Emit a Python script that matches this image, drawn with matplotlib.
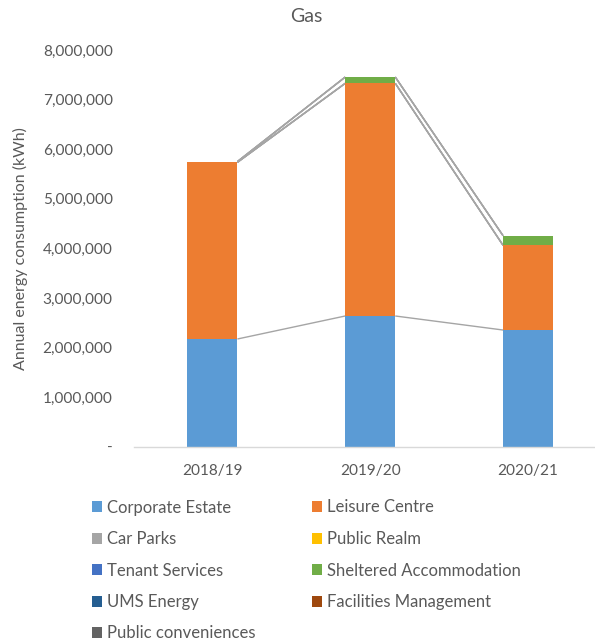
import matplotlib
matplotlib.use("Agg")
import matplotlib.pyplot as plt
from matplotlib.patches import Patch
from matplotlib.ticker import FuncFormatter
import numpy as np

plt.rcParams['font.family'] = ['Lato', 'DejaVu Sans']

categories = ["2018/19", "2019/20", "2020/21"]
series_names = ["Corporate Estate", "Leisure Centre", "Car Parks", "Public Realm",
                "Tenant Services", "Sheltered Accommodation", "UMS Energy",
                "Facilities Management", "Public conveniences"]
corporate_estate = [2172000, 2636000, 2353000]
leisure_centre = [3563000, 4692000, 1708000]
car_parks = [0, 0, 0]
public_realm = [0, 0, 0]
tenant_services = [0, 0, 0]
sheltered_accommodation = [15000, 127000, 194000]
ums_energy = [0, 0, 0]
facilities_management = [0, 0, 0]
public_conveniences = [0, 0, 0]
series_values = [corporate_estate, leisure_centre, car_parks, public_realm,
                 tenant_services, sheltered_accommodation, ums_energy,
                 facilities_management, public_conveniences]
colors = ["#5B9BD5", "#ED7D31", "#A5A5A5", "#FFC000", "#4472C4", "#70AD47",
          "#255E91", "#9E480E", "#636363"]
yticks = [0, 1000000, 2000000, 3000000, 4000000, 5000000, 6000000, 7000000, 8000000]

W, H = 595, 642
fig = plt.figure(figsize=(W / 100, H / 100), dpi=100)
ax = fig.add_axes([133.5 / W, (H - 446.7) / H, (607 - 133.5) / W, (446.7 - 50) / H])

text_color = "#595959"
x = np.arange(len(categories))
width = 0.317
bottom = np.zeros(len(categories))
handles = []
tops = []
for name, vals, c in zip(series_names, series_values, colors):
    v = np.array(vals, dtype=float)
    ax.bar(x, v, width, bottom=bottom, color=c, linewidth=0, zorder=2)
    bottom = bottom + v
    tops.append(bottom.copy())
    handles.append(Patch(facecolor=c, edgecolor='none', label=name))

# series lines (Excel style)
for t in tops:
    for i in range(len(categories) - 1):
        ax.plot([x[i] + width / 2, x[i + 1] - width / 2], [t[i], t[i + 1]],
                color="#A5A5A5", linewidth=1.0, zorder=1, solid_capstyle='butt')

ax.set_xlim(-0.5, len(categories) - 0.5)
ax.set_ylim(0, 8000000)
ax.set_yticks(yticks)
ax.yaxis.set_major_formatter(FuncFormatter(lambda v, p: "-" if v == 0 else f"{int(v):,}"))
ax.set_xticks(x)
ax.set_xticklabels(categories)
for s in ["top", "right", "left"]:
    ax.spines[s].set_visible(False)
ax.spines["bottom"].set_color("#D9D9D9")
ax.spines["bottom"].set_linewidth(1.0)
ax.tick_params(axis='both', length=0, colors=text_color, labelsize=11.1)
ax.tick_params(axis='y', pad=15)
ax.tick_params(axis='x', pad=12.5)
fig.text(306 / W, 1 - 17 / H, "Gas", ha='center', va='center', color=text_color, fontsize=14)
fig.text(20 / W, 1 - 249 / H, "Annual energy consumption (kWh)", rotation=90,
         ha='center', va='center', color=text_color, fontsize=11.5)

col1 = [0, 2, 4, 6, 8]
col2 = [1, 3, 5, 7]
for idxs, x0 in ((col1, 92), (col2, 312)):
    leg = fig.legend([handles[i] for i in idxs], [series_names[i] for i in idxs],
                     loc='upper left', bbox_to_anchor=(x0 / W, 1 - 499.5 / H),
                     frameon=False, borderpad=0, borderaxespad=0,
                     handlelength=0.62, handleheight=0.62, handletextpad=0.3,
                     labelspacing=0.93, fontsize=12)
    for t in leg.get_texts():
        t.set_color(text_color)

fig.savefig("out.png", dpi=100)
